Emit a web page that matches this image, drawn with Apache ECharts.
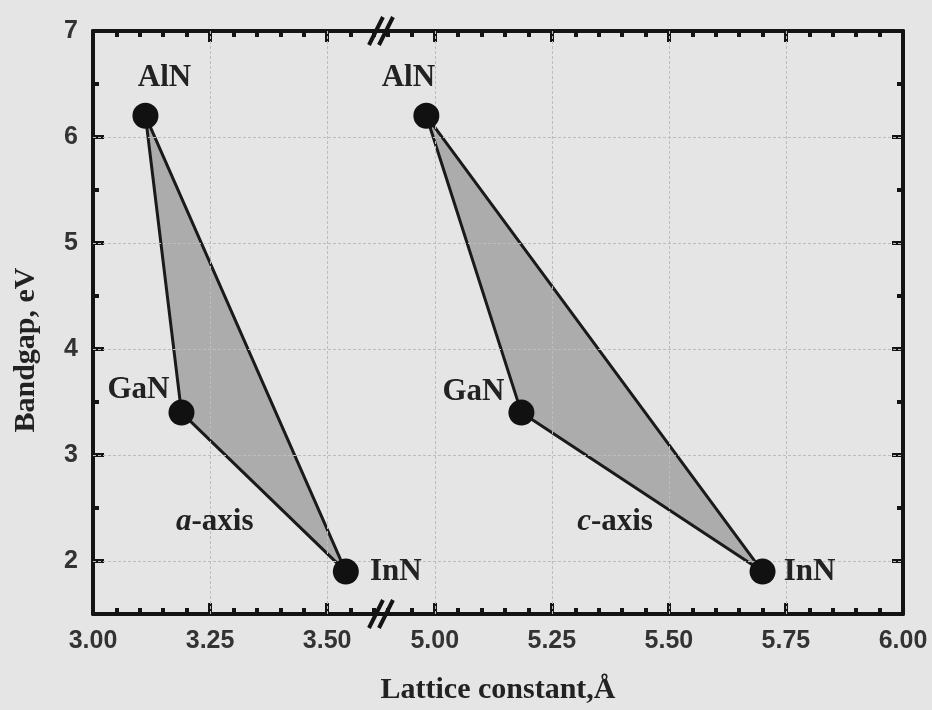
<!DOCTYPE html>
<html><head><meta charset="utf-8">
<script src="https://cdn.jsdelivr.net/npm/echarts@6/dist/echarts.min.js"></script>
<style>html,body{margin:0;padding:0;background:#e5e5e5}#c{width:932px;height:710px}</style>
</head><body><div id="c"></div>
<script>
// ---- data ----
const compounds = ['AlN', 'GaN', 'InN'];
const bandgap = [6.2, 3.4, 1.9];          // eV
const latticeA = [3.112, 3.189, 3.54];    // a-axis lattice constant, Å
const latticeC = [4.982, 5.185, 5.70];    // c-axis lattice constant, Å
const xTicksLeft = [3.00, 3.25, 3.50];
const xTicksRight = [5.00, 5.25, 5.50, 5.75, 6.00];
const yTicks = [2, 3, 4, 5, 6, 7];
const yMinorTicks = [2.5, 3.5, 4.5, 5.5, 6.5];
const annotItalic = ['a', 'c'];
const annotRest = ['-axis', '-axis'];
const annotX = [3.26, 5.385];
const annotY = [2.37, 2.37];
const xTitle = 'Lattice constant,Å';
const yTitle = 'Bandgap, eV';

// ---- broken axis mapping ----
const BREAK_LO = 3.615, BREAK_HI = 4.885;
const SHIFT = BREAK_HI - BREAK_LO;
const X_MIN = 3.00, X_MAX = 6.00, Y_MIN = 1.5, Y_MAX = 7;
function T(v) { return v > BREAK_LO + 1e-9 ? +(v - SHIFT).toFixed(6) : v; }
function inv(t) { return t > BREAK_LO + 1e-9 ? t + SHIFT : t; }

const xMajorT = xTicksLeft.concat(xTicksRight).map(T);
const xMinorT = [];
for (let k = 0; k <= 60; k++) {
  const v = Math.round((3.00 + 0.05 * k) * 100) / 100;
  if (Math.round(v * 100) % 25 === 0) continue;
  if ((v > 3.00 && v < BREAK_LO) || (v > BREAK_HI && v < X_MAX)) xMinorT.push(T(v));
}

// ---- style ----
const AX = '#141414';
const SERIF = 'Liberation Serif';
const SANS = 'Liberation Sans';
const labelOffA = [[19, -38], [-43, -23], [50, 0]];
const labelOffC = [[-18, -38], [-48, -21], [47, 0]];

const gridRect = { left: 93, right: 29, top: 31, bottom: 96 };

function xAxisCfg(grid, pos, major) {
  return {
    type: 'value', gridIndex: grid, position: pos, min: T(X_MIN), max: T(X_MAX),
    axisLine: { show: major, lineStyle: { color: AX, width: 4 } },
    axisTick: { show: true, inside: true, length: major ? 11 : 6,
      customValues: major ? xMajorT : xMinorT, lineStyle: { color: AX, width: 4 } },
    axisLabel: { show: major && pos === 'bottom', customValues: xMajorT,
      formatter: v => inv(v).toFixed(2), fontFamily: SANS, fontWeight: 'bold',
      fontSize: 25, color: '#333', margin: 15 },
    splitLine: { show: false }
  };
}
function yAxisCfg(grid, pos, major) {
  return {
    type: 'value', gridIndex: grid, position: pos, min: Y_MIN, max: Y_MAX,
    axisLine: { show: major, lineStyle: { color: AX, width: 4 } },
    axisTick: { show: true, inside: true, length: major ? 11 : 6,
      customValues: major ? yTicks : yMinorTicks, lineStyle: { color: AX, width: 4 } },
    axisLabel: { show: major && pos === 'left', customValues: yTicks,
      formatter: v => String(Math.round(v)), fontFamily: SANS, fontWeight: 'bold',
      fontSize: 25, color: '#333', margin: 15 },
    splitLine: { show: false }
  };
}

function polygonSeries(xs) {
  return {
    type: 'custom', xAxisIndex: 0, yAxisIndex: 0, z: 2, silent: true,
    data: [[T(xs[0]), bandgap[0]]],
    renderItem: (params, api) => ({
      type: 'polygon',
      shape: { points: xs.map((x, i) => api.coord([T(x), bandgap[i]])) },
      style: { fill: '#acacac', stroke: '#1a1a1a', lineWidth: 3, lineJoin: 'round' }
    })
  };
}
function dotSeries(xs, offs) {
  return {
    type: 'scatter', xAxisIndex: 0, yAxisIndex: 0, z: 5, silent: true,
    symbol: 'circle', symbolSize: 26,
    itemStyle: { color: '#111', opacity: 1, borderWidth: 0 },
    emphasis: { disabled: true },
    label: { show: true, position: 'inside', formatter: '{b}', fontFamily: SERIF,
      fontWeight: 'bold', fontSize: 31, color: '#222', opacity: 1 },
    data: compounds.map((n, i) => ({ name: n, value: [T(xs[i]), bandgap[i]], label: { offset: offs[i] } }))
  };
}

const gridV = [3.25, 3.50, 5.00, 5.25, 5.50, 5.75];
const gridH = [2, 3, 4, 5, 6];

const chart = echarts.init(document.getElementById('c'), null, { renderer: 'canvas' });
const option = {
  backgroundColor: '#e5e5e5',
  animation: false,
  grid: [Object.assign({}, gridRect), Object.assign({}, gridRect)],
  xAxis: [xAxisCfg(0, 'bottom', true), xAxisCfg(0, 'top', true), xAxisCfg(1, 'bottom', false), xAxisCfg(1, 'top', false)],
  yAxis: [yAxisCfg(0, 'left', true), yAxisCfg(0, 'right', true), yAxisCfg(1, 'left', false), yAxisCfg(1, 'right', false)],
  series: [
    {
      type: 'scatter', xAxisIndex: 0, yAxisIndex: 0, z: 1, data: [], silent: true,
      markLine: {
        silent: true, symbol: ['none', 'none'], label: { show: false },
        lineStyle: { color: '#bdbdbd', width: 1, type: [3, 2] },
        data: gridV.map(v => ({ xAxis: T(v) })).concat(gridH.map(v => ({ yAxis: v })))
      }
    },
    polygonSeries(latticeA),
    polygonSeries(latticeC),
    dotSeries(latticeA, labelOffA),
    dotSeries(latticeC, labelOffC),
    {
      type: 'scatter', xAxisIndex: 0, yAxisIndex: 0, z: 5, symbolSize: 0, silent: true,
      itemStyle: { opacity: 1 },
      emphasis: { disabled: true },
      label: {
        show: true, position: 'inside', opacity: 1,
        formatter: p => '{i|' + annotItalic[p.dataIndex] + '}{n|' + annotRest[p.dataIndex] + '}',
        rich: {
          i: { fontFamily: SERIF, fontStyle: 'italic', fontWeight: 'bold', fontSize: 31, color: '#222' },
          n: { fontFamily: SERIF, fontWeight: 'bold', fontSize: 31, color: '#222' }
        }
      },
      data: annotX.map((x, i) => [T(x), annotY[i]])
    }
  ]
};
chart.setOption(option);

// break marks and titles
const bx = chart.convertToPixel({ xAxisIndex: 0 }, BREAK_LO);
const yTop = chart.convertToPixel({ yAxisIndex: 0 }, Y_MAX);
const yBot = chart.convertToPixel({ yAxisIndex: 0 }, Y_MIN);
const xL = chart.convertToPixel({ xAxisIndex: 0 }, T(X_MIN));
const xR = chart.convertToPixel({ xAxisIndex: 0 }, T(X_MAX));
const g = [];
[yTop, yBot].forEach(yy => {
  [-5, 5].forEach(dx => {
    g.push({ type: 'line', z: 10, shape: { x1: bx + dx - 7, y1: yy + 14, x2: bx + dx + 7, y2: yy - 14 },
      style: { stroke: '#141414', lineWidth: 4 } });
  });
});
g.push({ type: 'text', x: (xL + xR) / 2, y: 690, z: 10,
  style: { text: xTitle, font: 'bold 30px "Liberation Serif"', fill: '#222', align: 'center', verticalAlign: 'middle' } });
g.push({ type: 'text', x: 26, y: 350, rotation: Math.PI / 2, z: 10,
  style: { text: yTitle, font: 'bold 30px "Liberation Serif"', fill: '#222', align: 'center', verticalAlign: 'middle' } });
chart.setOption({ graphic: g });
</script>
</body></html>
